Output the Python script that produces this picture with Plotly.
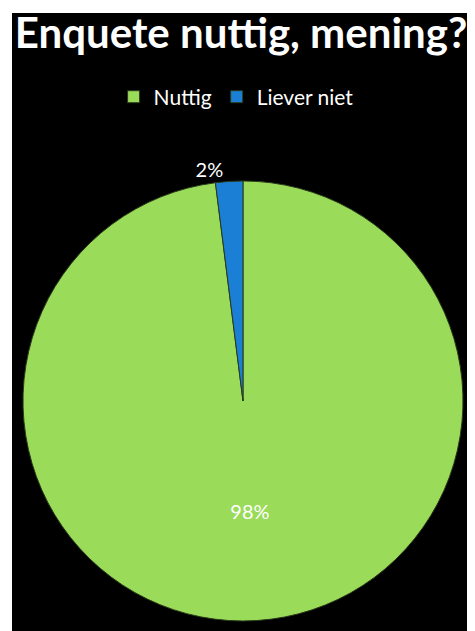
import plotly.graph_objects as go

# survey answers
labels = ['Nuttig', 'Liever niet']
values = [98, 2]
colors = ['#9adb5a', '#1b7fd6']

pie = go.Pie(labels=labels, values=values, sort=False, direction='clockwise', rotation=0,
             marker=dict(colors=colors, line=dict(color='#2a3a1a', width=1)),
             texttemplate='%{percent:.0%}', textposition=['inside', 'outside'],
             textfont=dict(color='white', size=20, family='Lato'),
             insidetextorientation='horizontal',
             domain=dict(x=[0.0237, 0.9741], y=[0.0162, 0.7282]),
             hoverinfo='label+percent')

fig = go.Figure(data=[pie])
# page body has an 8px margin, so keep the figure inside the window
fig.update_layout(
    width=467, height=623,
    margin=dict(l=4, t=5, r=0, b=0),
    paper_bgcolor='white',
    title=dict(text='<b>Enquete nuttig, mening?</b>', x=0.499, xanchor='center',
               y=0.960, yanchor='middle',
               font=dict(family='Lato', size=42, color='white')),
    showlegend=True,
    legend=dict(orientation='h', x=0.484, xanchor='center', y=0.864, yanchor='middle',
                font=dict(family='Lato', size=21, color='white'), bgcolor='rgba(0,0,0,0)'),
    shapes=[dict(type='rect', xref='paper', yref='paper', x0=0, x1=1.1, y0=-0.1, y1=1,
                 fillcolor='black', line=dict(width=0), layer='below')],
)
fig.write_html('out.html')
